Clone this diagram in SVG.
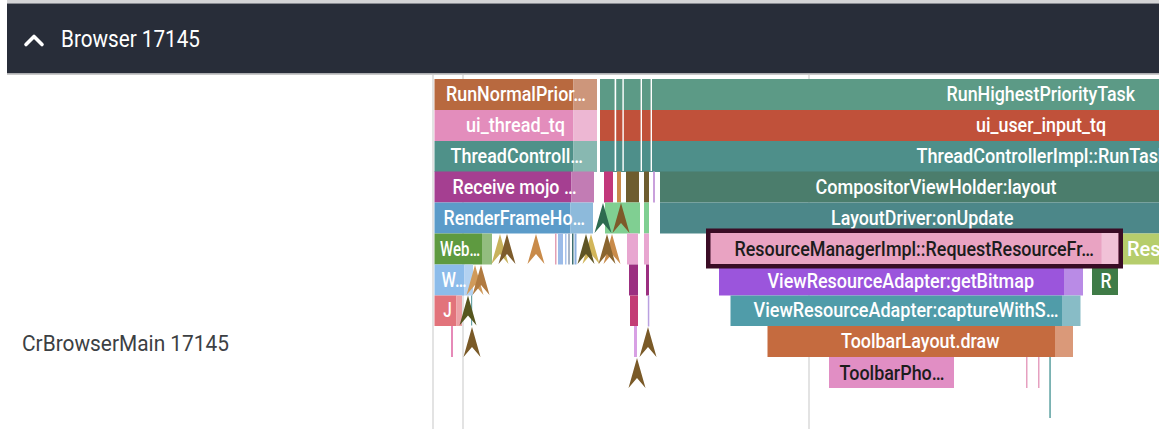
<svg xmlns="http://www.w3.org/2000/svg" xmlns:xlink="http://www.w3.org/1999/xlink" width="1159" height="429" viewBox="0 0 1159 429">
<style>
.lbl{font-family:Roboto,"Liberation Sans",sans-serif;font-size:20px;font-weight:500;fill:#ffffff}
.dk{fill:#1c1c1c}
.grid{stroke:#dadada;stroke-width:1.5}
.sep{fill:#ffffff}
</style>
<defs>
<path id="chev" d="M0,0 L8.5,30 L0,20 L-8.5,30 Z"/>
</defs>
<rect x="0" y="0" width="1159" height="429" fill="#ffffff"/>
<g id="header">
<rect x="7" y="0" width="1152" height="3.5" fill="#d4d4d6"/>
<rect x="7" y="3.5" width="1152" height="70" fill="#282d39"/>
<rect x="7" y="73.5" width="1152" height="1.5" fill="#c9c9c9"/>
<polyline points="26,44.5 34,36.5 42,44.5" fill="none" stroke="#ffffff" stroke-width="3.6" stroke-linecap="round" stroke-linejoin="round"/>
<text x="61" y="47" style="font-family:Roboto,'Liberation Sans',sans-serif;font-size:23px;fill:#ffffff" textLength="139" lengthAdjust="spacingAndGlyphs">Browser 17145</text>
</g>
<g id="track-label">
<text x="22" y="351" style="font-family:Roboto,'Liberation Sans',sans-serif;font-size:22px;fill:#3c4043" textLength="207" lengthAdjust="spacingAndGlyphs">CrBrowserMain 17145</text>
</g>
<g id="gridlines">
<line class="grid" x1="433" y1="75" x2="433" y2="429"/>
<line class="grid" x1="463" y1="75" x2="463" y2="429"/>
<line class="grid" x1="809" y1="75" x2="809" y2="429"/>
</g>
<g id="row1">
<g id="RunNormalPriorityTask"><rect x="434.5" y="79" width="139" height="31" fill="#b8693f"/><rect x="573.5" y="79" width="23.5" height="31" fill="#cd967b"/><text class="lbl" x="446" y="101" textLength="140" lengthAdjust="spacingAndGlyphs">RunNormalPrior…</text></g>
<g id="RunHighestPriorityTask"><rect x="600" y="79" width="559" height="31" fill="#5c9a86"/><text class="lbl" x="946.5" y="101" textLength="188.5" lengthAdjust="spacingAndGlyphs">RunHighestPriorityTask</text></g>
</g>
<g id="row2">
<g id="ui_thread_tq"><rect x="434.5" y="110" width="139" height="31" fill="#e38dbc"/><rect x="573.5" y="110" width="23.5" height="31" fill="#edb7d3"/><text class="lbl" x="466" y="132" textLength="99" lengthAdjust="spacingAndGlyphs">ui_thread_tq</text></g>
<g id="ui_user_input_tq"><rect x="600" y="110" width="559" height="31" fill="#c0513a"/><text class="lbl" x="976" y="132" textLength="130" lengthAdjust="spacingAndGlyphs">ui_user_input_tq</text></g>
</g>
<g id="row3">
<g id="ThreadControllerImpl-left"><rect x="434.5" y="141" width="139" height="31" fill="#4f9189"/><rect x="573.5" y="141" width="23.5" height="31" fill="#88b8b1"/><text class="lbl" x="450.5" y="163" textLength="132.5" lengthAdjust="spacingAndGlyphs">ThreadControll…</text></g>
<g id="ThreadControllerImpl-RunTask"><rect x="600" y="141" width="559" height="31" fill="#4e8f8a"/><text class="lbl" x="916.5" y="163" textLength="251" lengthAdjust="spacingAndGlyphs">ThreadControllerImpl::RunTask</text></g>
</g>
<g id="row1-3-separators">
<rect class="sep" x="614.6" y="79" width="1.6" height="92"/>
<rect class="sep" x="622.4" y="79" width="1.4" height="92"/>
<rect class="sep" x="640.6" y="79" width="1.4" height="92"/>
<rect class="sep" x="650.6" y="79" width="1.4" height="92"/>
</g>
<g id="row4">
<g id="ReceiveMojo"><rect x="434.5" y="171.5" width="137" height="31" fill="#a53f91"/><rect x="571.5" y="171.5" width="22.5" height="31" fill="#c27cb4"/><text class="lbl" x="452.5" y="193.5" textLength="124" lengthAdjust="spacingAndGlyphs">Receive mojo …</text></g>
<rect x="604" y="171.5" width="9" height="31" fill="#c2387b"/>
<rect x="617" y="171.5" width="4" height="31" fill="#c98b4a"/>
<rect x="626" y="171.5" width="13" height="31" fill="#6e5d2f"/>
<rect x="644" y="171.5" width="5" height="31" fill="#6e5d2f"/>
<rect x="653" y="171.5" width="2" height="31" fill="#c9a0dc"/>
<g id="CompositorViewHolder"><rect x="660" y="171.5" width="499" height="31" fill="#4b7d6c"/><text class="lbl" x="815.5" y="193.5" textLength="241" lengthAdjust="spacingAndGlyphs">CompositorViewHolder:layout</text></g>
</g>
<g id="row5">
<g id="RenderFrameHost"><rect x="434.5" y="202.5" width="136" height="31" fill="#5b9bc9"/><rect x="570.5" y="202.5" width="22.5" height="31" fill="#8dbadb"/><text class="lbl" x="443.5" y="224.5" textLength="141.5" lengthAdjust="spacingAndGlyphs">RenderFrameHo…</text></g>
<rect x="605" y="202.5" width="35" height="31" fill="#80cf92"/>
<rect x="644" y="202.5" width="5" height="31" fill="#80cf92"/>
<use xlink:href="#chev" x="603" y="203" fill="#2d6b50"/>
<use xlink:href="#chev" x="621" y="203" fill="#7d5a2a"/>
<g id="LayoutDriver"><rect x="660" y="202.5" width="499" height="31" fill="#4c8789"/><text class="lbl" x="831" y="224.5" textLength="182.5" lengthAdjust="spacingAndGlyphs">LayoutDriver:onUpdate</text></g>
</g>
<g id="row6">
<g id="Web"><rect x="434.5" y="233.5" width="47.5" height="31" fill="#5e9a40"/><rect x="482" y="233.5" width="10" height="31" fill="#93bd7f"/><text class="lbl" x="440" y="255.5" textLength="40" lengthAdjust="spacingAndGlyphs">Web…</text></g>
<rect x="555" y="233.5" width="1.5" height="31" fill="#e3a0b4"/>
<rect x="558" y="233.5" width="5" height="31" fill="#9bbbe8"/>
<rect x="565" y="233.5" width="1.5" height="31" fill="#aac4ec"/>
<rect x="568" y="233.5" width="2" height="31" fill="#a9b6c8"/>
<rect x="572" y="233.5" width="1.5" height="31" fill="#3e6e70"/>
<rect x="574.5" y="233.5" width="2" height="31" fill="#8cb0e0"/>
<use xlink:href="#chev" x="500" y="234" fill="#c8b25c"/>
<use xlink:href="#chev" x="507" y="234" fill="#7d5c2c"/>
<use xlink:href="#chev" x="536" y="234" fill="#c98b4a"/>
<use xlink:href="#chev" x="591" y="234" fill="#d2b65a"/>
<use xlink:href="#chev" x="586" y="234" fill="#5f5524"/>
<use xlink:href="#chev" x="612" y="234" fill="#c98b4a"/>
<use xlink:href="#chev" x="607" y="234" fill="#8a6530"/>
<rect x="627" y="233.5" width="11" height="31" fill="#e8a6d0"/>
<rect x="644" y="233.5" width="5" height="31" fill="#e8a6d0"/>
<g id="Res"><rect x="1123" y="233.5" width="36" height="31" fill="#b6cd6c"/><text class="lbl" x="1127" y="255.5">Res…</text></g>
</g>
<g id="row7">
<g id="W"><rect x="434.5" y="264.5" width="30" height="31" fill="#8cbcea"/><rect x="464.5" y="264.5" width="8.5" height="31" fill="#b3d2f1"/><text class="lbl" x="441.5" y="286.5" textLength="25" lengthAdjust="spacingAndGlyphs">W…</text></g>
<use xlink:href="#chev" x="475" y="265" fill="#d09a5a"/>
<use xlink:href="#chev" x="481" y="265" fill="#b07a40"/>
<rect x="629" y="264.5" width="9" height="31" fill="#9b2f80"/>
<rect x="646" y="264.5" width="3" height="31" fill="#9b2f80"/>
<g id="getBitmap"><rect x="719" y="264.5" width="345" height="31" fill="#9b55dc"/><rect x="1064" y="264.5" width="19" height="31" fill="#b98be6"/><text class="lbl" x="767.5" y="287.5" textLength="266.5" lengthAdjust="spacingAndGlyphs">ViewResourceAdapter:getBitmap</text></g>
<g id="R"><rect x="1092" y="268" width="26" height="27" fill="#3f7b47"/><text class="lbl" x="1100.5" y="287.5" textLength="11" lengthAdjust="spacingAndGlyphs">R</text></g>
</g>
<g id="ResourceManagerImpl">
<rect x="708.25" y="230.75" width="412.5" height="35.5" fill="#e9a3c2" stroke="#3a0c25" stroke-width="4.5"/>
<rect x="1101.5" y="233" width="16.5" height="31" fill="#f1c2d7"/>
<text class="lbl dk" x="734.5" y="255.5" textLength="359.5" lengthAdjust="spacingAndGlyphs">ResourceManagerImpl::RequestResourceFr…</text>
</g>
<g id="row8">
<g id="J"><rect x="434.5" y="295.5" width="22" height="30.5" fill="#e2737b"/><rect x="456.5" y="295.5" width="5.5" height="30.5" fill="#eca1a6"/><text class="lbl" x="443.3" y="317" textLength="8.5" lengthAdjust="spacingAndGlyphs">J</text></g>
<rect x="471" y="295.5" width="1.2" height="30" fill="#6aa3a6"/>
<use xlink:href="#chev" x="468" y="295.5" fill="#56561f"/>
<rect x="630" y="295.5" width="8" height="30.5" fill="#c33c75"/>
<rect x="647.8" y="295.5" width="1.5" height="31" fill="#b9a0e0"/>
<g id="captureWithS"><rect x="730.5" y="295.5" width="331.5" height="30.5" fill="#509ca9"/><rect x="1062" y="295.5" width="18.5" height="30.5" fill="#88bcc6"/><text class="lbl" x="753.5" y="317" textLength="305" lengthAdjust="spacingAndGlyphs">ViewResourceAdapter:captureWithS…</text></g>
</g>
<g id="row9">
<rect x="451" y="326" width="2" height="31" fill="#e68ab8"/>
<use xlink:href="#chev" x="472" y="327" fill="#7a5a28"/>
<rect x="634" y="326" width="3" height="31" fill="#d8a0e4"/>
<use xlink:href="#chev" x="648" y="327" fill="#7a5a28"/>
<g id="ToolbarLayoutDraw"><rect x="767.5" y="326" width="287.5" height="31" fill="#c56b3f"/><rect x="1055" y="326" width="18" height="31" fill="#da9979"/><text class="lbl" x="841" y="348" textLength="158.5" lengthAdjust="spacingAndGlyphs">ToolbarLayout.draw</text></g>
</g>
<g id="row10">
<use xlink:href="#chev" x="637" y="358" fill="#7a5a28"/>
<g id="ToolbarPho"><rect x="829" y="357" width="125" height="31" fill="#e18ec4"/><text class="lbl dk" x="839.5" y="379.5" textLength="105" lengthAdjust="spacingAndGlyphs">ToolbarPho…</text></g>
<rect x="1026" y="357" width="1.5" height="31" fill="#e6a0c0"/>
<rect x="1038" y="357" width="1.5" height="31" fill="#e6a0c0"/>
<rect x="1049.3" y="357" width="1.5" height="61" fill="#5aa0a0"/>
</g>
</svg>
